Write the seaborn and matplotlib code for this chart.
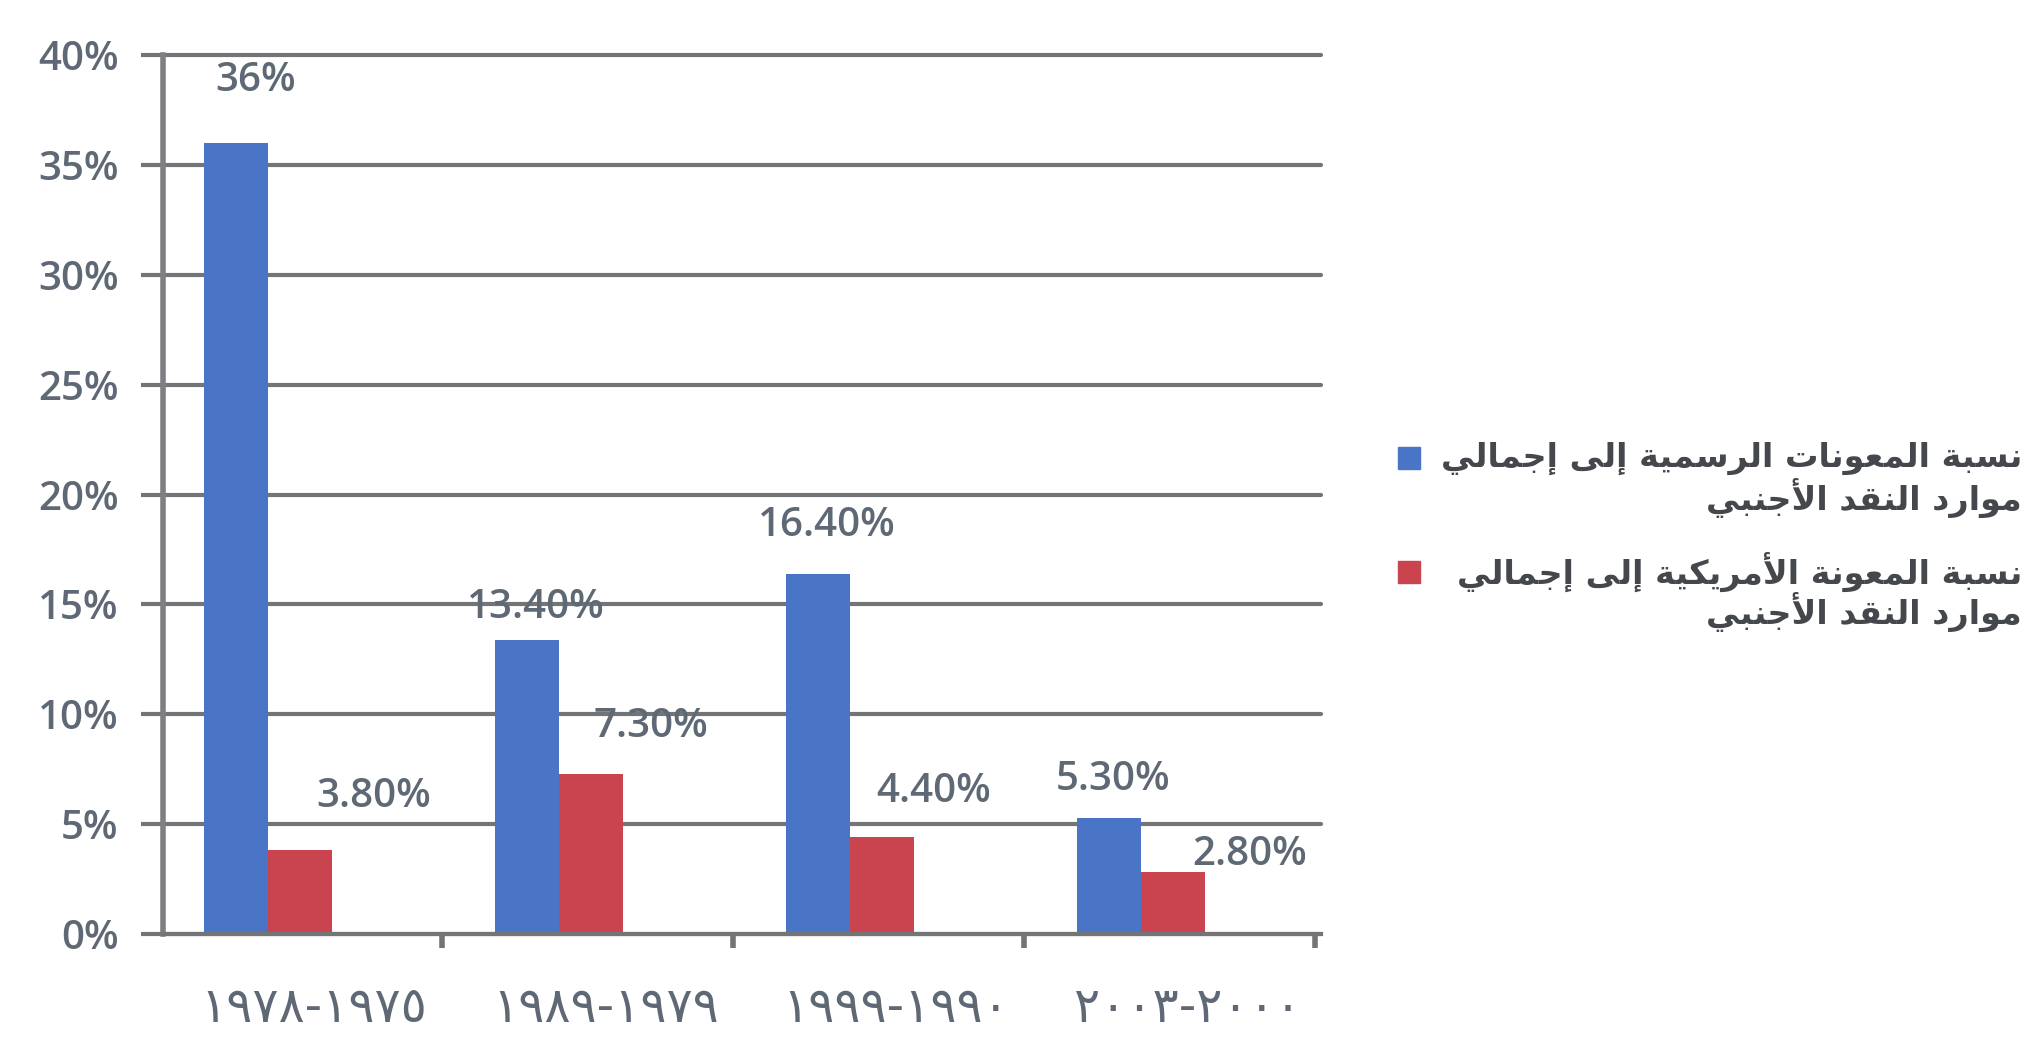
import matplotlib
matplotlib.use("Agg")
import matplotlib.pyplot as plt
from matplotlib.patches import Rectangle
import seaborn as sns
import pandas as pd

# data
periods = ["١٩٧٨-١٩٧٥", "١٩٨٩-١٩٧٩", "١٩٩٩-١٩٩٠", "٢٠٠٣-٢٠٠٠"]
series_names = [
    "نسبة المعونات الرسمية إلى إجمالي\nموارد النقد الأجنبي",
    "نسبة المعونة الأمريكية إلى إجمالي\nموارد النقد الأجنبي",
]
official_aid = [36.0, 13.4, 16.4, 5.3]
us_aid = [3.8, 7.3, 4.4, 2.8]
official_labels = ["36%", "13.40%", "16.40%", "5.30%"]
us_labels = ["3.80%", "7.30%", "4.40%", "2.80%"]

BLUE = "#4a74c6"
RED = "#c9444f"
GRID = "#727476"
TEXT = "#5e6975"

# label offsets (pixels) from bar top, as placed in the original
official_offsets = [(20, 62), (9, 32), (9, 48), (4, 38)]
us_offsets = [(74, 53), (60, 47), (52, 45), (77, 17)]

# --- minimal Arabic shaping (matplotlib has no complex text layout) ---
FORMS = {
    "ا": ("\uFE8D", "\uFE8E", None, None),
    "أ": ("\uFE83", "\uFE84", None, None),
    "إ": ("\uFE87", "\uFE88", None, None),
    "ب": ("\uFE8F", "\uFE90", "\uFE91", "\uFE92"),
    "ة": ("\uFE93", "\uFE94", None, None),
    "ت": ("\uFE95", "\uFE96", "\uFE97", "\uFE98"),
    "ج": ("\uFE9D", "\uFE9E", "\uFE9F", "\uFEA0"),
    "د": ("\uFEA9", "\uFEAA", None, None),
    "ر": ("\uFEAD", "\uFEAE", None, None),
    "س": ("\uFEB1", "\uFEB2", "\uFEB3", "\uFEB4"),
    "ع": ("\uFEC9", "\uFECA", "\uFECB", "\uFECC"),
    "ق": ("\uFED5", "\uFED6", "\uFED7", "\uFED8"),
    "ك": ("\uFED9", "\uFEDA", "\uFEDB", "\uFEDC"),
    "ل": ("\uFEDD", "\uFEDE", "\uFEDF", "\uFEE0"),
    "م": ("\uFEE1", "\uFEE2", "\uFEE3", "\uFEE4"),
    "ن": ("\uFEE5", "\uFEE6", "\uFEE7", "\uFEE8"),
    "و": ("\uFEED", "\uFEEE", None, None),
    "ى": ("\uFEEF", "\uFEF0", None, None),
    "ي": ("\uFEF1", "\uFEF2", "\uFEF3", "\uFEF4"),
}
LAM_ALEF = {
    "ا": ("\uFEFB", "\uFEFC"),
    "أ": ("\uFEF7", "\uFEF8"),
    "إ": ("\uFEF9", "\uFEFA"),
}


def shape_arabic(text):
    seq = []
    i = 0
    while i < len(text):
        c = text[i]
        if c == "ل" and i + 1 < len(text) and text[i + 1] in LAM_ALEF:
            seq.append(("LA", text[i + 1]))
            i += 2
        else:
            seq.append(c)
            i += 1

    def joins_forward(ch):
        return isinstance(ch, str) and ch in FORMS and FORMS[ch][2] is not None

    def is_letter(ch):
        return isinstance(ch, tuple) or ch in FORMS

    out = []
    for k, c in enumerate(seq):
        prev = seq[k - 1] if k > 0 else None
        nxt = seq[k + 1] if k + 1 < len(seq) else None
        jp = prev is not None and joins_forward(prev)
        if isinstance(c, tuple):
            iso, fin = LAM_ALEF[c[1]]
            out.append(fin if jp else iso)
            continue
        if c not in FORMS:
            out.append(c)
            continue
        iso, fin, ini, med = FORMS[c]
        jn = ini is not None and nxt is not None and is_letter(nxt)
        if jp and jn:
            out.append(med)
        elif jp:
            out.append(fin)
        elif jn:
            out.append(ini)
        else:
            out.append(iso)
    return "".join(reversed(out))


df = pd.DataFrame({
    "period": periods * 2,
    "series": [series_names[0]] * 4 + [series_names[1]] * 4,
    "value": official_aid + us_aid,
})

sns.set_style("white")
plt.rcParams["font.family"] = ["Open Sans", "DejaVu Sans"]

fig = plt.figure(figsize=(20.39, 10.53), dpi=100)
ax = fig.add_axes([163 / 2039, 1 - 934 / 1053, 1158 / 2039, 879 / 1053])

sns.barplot(data=df, x="period", y="value", hue="series", order=periods,
            hue_order=series_names, palette=[BLUE, RED], width=0.44,
            saturation=1, legend=False, linewidth=0, ax=ax)

ax.set_xlim(-0.36, 3.62)
ax.set_ylim(0, 40)
ax.set_axisbelow(True)
ax.set_xlabel("")
ax.set_ylabel("")

ax.set_yticks(range(0, 41, 5))
ax.set_yticklabels([f"{v}%" for v in range(0, 41, 5)], fontsize=29,
                   color=TEXT, fontweight="semibold")
ax.yaxis.grid(True, color=GRID, linewidth=3)
for gl in ax.get_ygridlines():
    gl.set_clip_on(False)
ax.tick_params(axis="y", length=16, width=3, color=GRID, pad=16, left=True)

ax.set_xticks([i + 0.16 for i in range(len(periods))])
ax.set_xticklabels(periods, fontsize=35, color=TEXT, family="DejaVu Sans")
ax.tick_params(axis="x", which="major", length=0, pad=36)
ax.set_xticks([0.6, 1.6, 2.6, 3.6], minor=True)
ax.tick_params(axis="x", which="minor", length=10, width=4, color=GRID,
               bottom=True, direction="out")

for side in ["top", "right"]:
    ax.spines[side].set_visible(False)
ax.spines["left"].set_color("#7d7f82")
ax.spines["left"].set_linewidth(4)
ax.spines["bottom"].set_color(GRID)
ax.spines["bottom"].set_linewidth(3)

# value labels
groups = [(ax.containers[0], official_labels, official_offsets),
          (ax.containers[1], us_labels, us_offsets)]
for cont, labels, offsets in groups:
    for bar, lab, (dx, dy) in zip(cont, labels, offsets):
        ax.annotate(lab, xy=(bar.get_x() + bar.get_width() / 2, bar.get_height()),
                    xytext=(dx, dy), textcoords="offset pixels",
                    ha="center", va="center", fontsize=29, color=TEXT,
                    fontweight="semibold", annotation_clip=False)

# legend: right-aligned Arabic text, key square at the left of the first line
W, H = 2039, 1053
legend_rows = [(458, 40), (572, 40)]
for name, color, (y0, step) in zip(series_names, [BLUE, RED], legend_rows):
    lines = name.split("\n")
    for j, line in enumerate(lines):
        fig.text(2022 / W, 1 - (y0 + j * step) / H, shape_arabic(line),
                 ha="right", va="center", fontsize=24, fontweight="bold",
                 color="#44474c", family="DejaVu Sans")
    fig.add_artist(Rectangle((1398 / W, 1 - (y0 + 11) / H), 22 / W, 22 / H,
                             transform=fig.transFigure, color=color))

fig.savefig("out.png", dpi=100, facecolor="white")
